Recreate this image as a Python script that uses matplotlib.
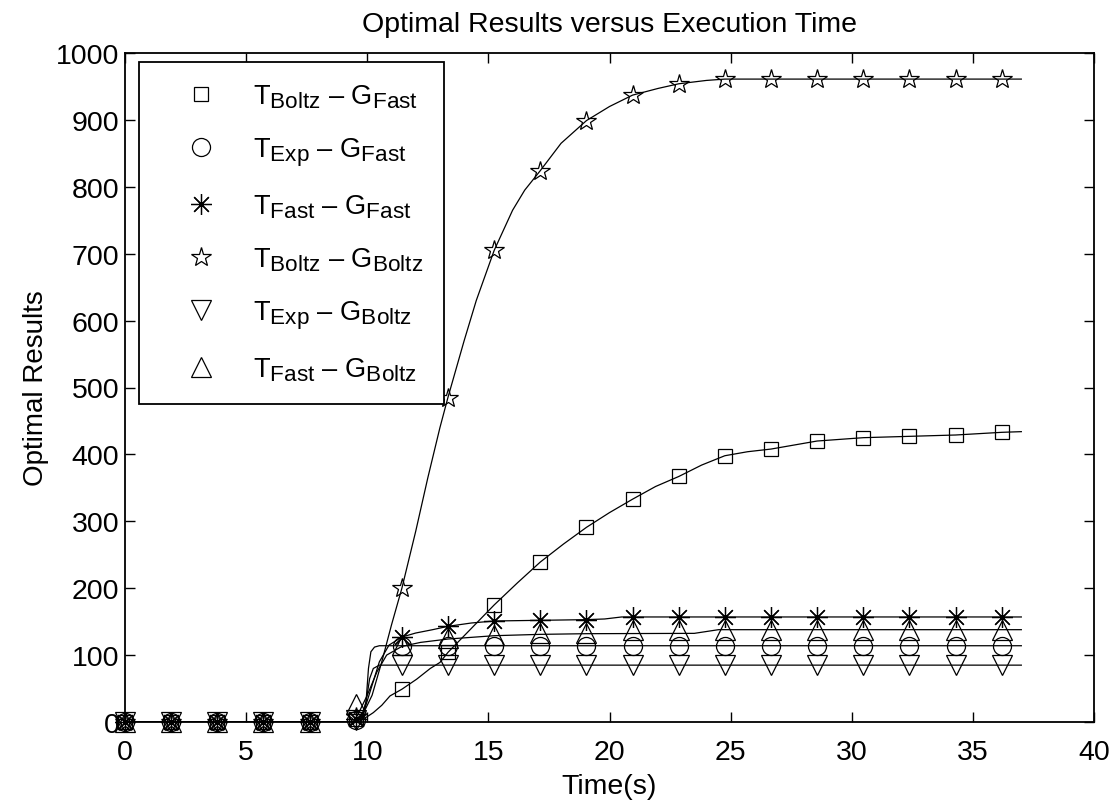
import matplotlib
matplotlib.use("Agg")
import matplotlib.pyplot as plt
try:
    import matplotlib._mathtext as _mt
    _mt.SHRINK_FACTOR = 0.83
except Exception:
    pass

plt.rcParams['font.family'] = ['Liberation Sans', 'DejaVu Sans']
plt.rcParams['mathtext.fontset'] = 'custom'
plt.rcParams['mathtext.rm'] = 'Liberation Sans'

# marker sample times (s)
marker_t = [0, 1.9, 3.81, 5.71, 7.62, 9.52, 11.43, 13.33, 15.24, 17.14,
            19.05, 20.95, 22.86, 24.76, 26.67, 28.57, 30.48, 32.38, 34.29, 36.19]

# marker values per series
sq_m = [0, 0, 0, 0, 0, 5, 49, 104, 175, 239, 291, 333, 367, 398, 408, 420, 425, 427, 429, 433]
ci_m = [0, 0, 0, 0, 0, 3, 114, 114, 114, 114, 114, 114, 114, 114, 114, 114, 114, 114, 114, 114]
as_m = [0, 0, 0, 0, 0, 5, 127, 143, 151, 152, 153, 157, 157, 157, 157, 157, 157, 157, 157, 157]
st_m = [0, 0, 0, 0, 0, 7, 200, 485, 705, 824, 899, 937, 954, 961, 961, 961, 961, 961, 961, 961]
dn_m = [0, 0, 0, 0, 0, 3, 85, 85, 85, 85, 85, 85, 85, 85, 85, 85, 85, 85, 85, 85]
up_m = [0, 0, 0, 0, 0, 27, 115, 125, 130, 133, 133, 138, 138, 138, 138, 138, 138, 138, 138, 138]

# continuous curves
sq_t = [0, 9.6, 10.0, 10.25, 10.6, 10.94, 11.43, 12.04, 12.6, 13.0, 13.33, 14.3, 15.24, 16.2, 17.14,
        18.1, 19.05, 20.0, 20.95, 21.9, 22.86, 23.8, 24.76, 25.7, 26.67, 28.57, 30.48, 32.38, 34.29, 36.19, 37.0]
sq_v = [0, 0, 8, 14, 25, 39, 49, 64, 80, 89, 104, 140, 175, 208, 239,
        266, 291, 313, 333, 352, 367, 384, 398, 404, 408, 420, 425, 427, 429, 433, 434]

ci_t = [0, 9.75, 9.95, 10.05, 10.15, 10.3, 10.5, 37.0]
ci_v = [0, 0, 30, 80, 105, 112, 114, 114]

as_t = [0, 9.6, 9.9, 10.2, 10.5, 10.9, 11.43, 12.0, 12.7, 13.33, 14.3, 15.24, 17.14, 19.05, 19.8, 20.5, 37.0]
as_v = [0, 0, 20, 55, 90, 115, 127, 133, 138, 143, 148, 151, 152, 153, 154, 157, 157]

st_t = [0, 9.5, 9.8, 10.2, 10.6, 11.0, 11.43, 12.0, 12.5, 13.0, 13.33, 14.0, 14.5, 15.24, 16.0, 16.5,
        17.14, 18.0, 19.05, 20.0, 20.95, 22.0, 22.86, 24.0, 24.76, 37.0]
st_v = [0, 0, 10, 40, 90, 145, 200, 285, 365, 440, 485, 570, 630, 705, 765, 795,
        824, 865, 899, 920, 937, 947, 954, 959, 961, 961]

dn_t = [0, 9.7, 9.95, 10.1, 10.25, 10.5, 37.0]
dn_v = [0, 0, 30, 65, 80, 85, 85]

up_t = [0, 9.4, 9.6, 10.0, 10.4, 10.8, 11.43, 12.2, 13.33, 15.24, 17.14, 19.05, 23.5, 24.5, 37.0]
up_v = [0, 0, 10, 40, 75, 100, 113, 119, 124, 129, 131, 132, 132.5, 138, 138]

labels = [r'$\mathregular{T_{Boltz}}$ – $\mathregular{G_{Fast}}$',
          r'$\mathregular{T_{Exp}}$ – $\mathregular{G_{Fast}}$',
          r'$\mathregular{T_{Fast}}$ – $\mathregular{G_{Fast}}$',
          r'$\mathregular{T_{Boltz}}$ – $\mathregular{G_{Boltz}}$',
          r'$\mathregular{T_{Exp}}$ – $\mathregular{G_{Boltz}}$',
          r'$\mathregular{T_{Fast}}$ – $\mathregular{G_{Boltz}}$']

fig = plt.figure(figsize=(11.12, 8.03), dpi=100)
ax = fig.add_axes([125/1112, 1-723/803, (1094-125)/1112, (723-54)/803])

series = [
    (sq_t, sq_v, sq_m, 's', 10),
    (ci_t, ci_v, ci_m, 'o', 13),
    (as_t, as_v, as_m, (8, 2, 0), 15),
    (st_t, st_v, st_m, '*', 15),
    (dn_t, dn_v, dn_m, 'v', 14),
    (up_t, up_v, up_m, '^', 14),
]

handles = []
for (lt, lv, mv, mk, ms), lab in zip(series, labels):
    ax.plot(lt, lv, color='black', lw=0.9)
    h, = ax.plot(marker_t, mv, linestyle='none', marker=mk, markersize=ms,
                 markerfacecolor='none', markeredgecolor='black', markeredgewidth=0.9,
                 label=lab, clip_on=False)
    handles.append(h)

ax.set_xlim(0, 40)
ax.set_ylim(0, 1000)
ax.set_xticks(range(0, 41, 5))
ax.set_yticks(range(0, 1001, 100))
ax.tick_params(direction='in', length=7, width=1, labelsize=20.5, top=True, right=True)
ax.tick_params(axis='x', pad=12)
ax.tick_params(axis='y', pad=4)
for s in ax.spines.values():
    s.set_linewidth(1.3)

ax.set_title('Optimal Results versus Execution Time', fontsize=20.5, pad=16)
ax.set_xlabel('Time(s)', fontsize=20.5, labelpad=6)
ax.set_ylabel('Optimal Results', fontsize=20, labelpad=5)

leg = ax.legend(handles=handles, loc='upper left', bbox_to_anchor=(139/1112, 1-63/803),
                bbox_transform=fig.transFigure, fontsize=19.5, frameon=True, fancybox=False,
                edgecolor='black', borderpad=0.75, labelspacing=0.93, handlelength=3.08,
                handletextpad=0.38, borderaxespad=0)
leg.get_frame().set_linewidth(1.3)
leg.get_frame().set_alpha(1)
leg.set_zorder(5)

fig.savefig('out.png', dpi=100)
